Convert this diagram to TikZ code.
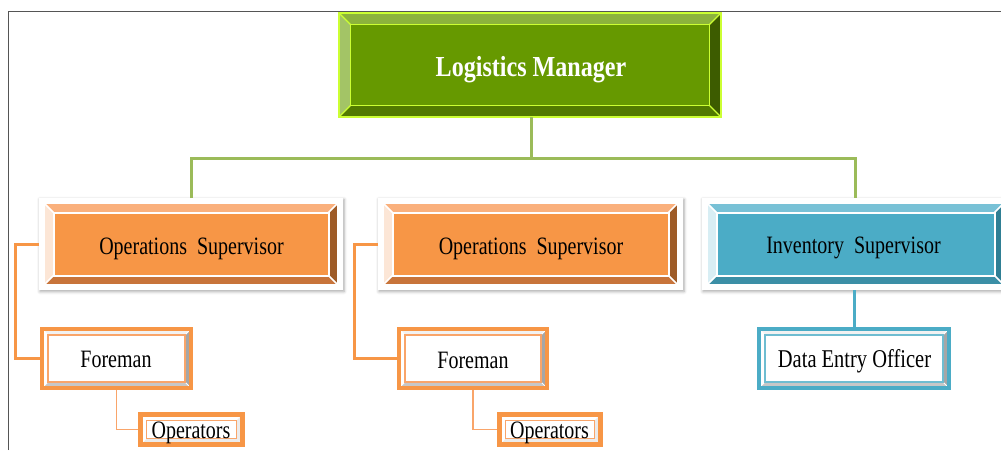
\documentclass[tikz,border=0pt]{standalone}
\usepackage{fontspec}
\setmainfont{Liberation Serif}
\newfontfamily\labelfont[FakeStretch=0.8]{Liberation Serif}
\newfontfamily\titlefont[FakeStretch=0.83]{Liberation Serif}
\usetikzlibrary{calc,shadows.blur,backgrounds}

% palette
\definecolor{lmfill}{HTML}{669900}
\definecolor{lmtop}{HTML}{8CB33D}
\definecolor{lmleft}{HTML}{A3C466}
\definecolor{lmright}{HTML}{3D5C00}
\definecolor{lmbottom}{HTML}{527A00}
\definecolor{lmedge}{HTML}{CCFF33}
\definecolor{conngreen}{HTML}{9BBB59}
\definecolor{orfill}{HTML}{F79646}
\definecolor{ortop}{HTML}{FAB07C}
\definecolor{orleft}{HTML}{FCE6D6}
\definecolor{orright}{HTML}{9E5B27}
\definecolor{orbottom}{HTML}{C8743A}
\definecolor{orthin}{HTML}{F9A56A}
\definecolor{blfill}{HTML}{4BACC6}
\definecolor{bltop}{HTML}{78C1D6}
\definecolor{blleft}{HTML}{D8EEF4}
\definecolor{blright}{HTML}{2F7F94}
\definecolor{blbottom}{HTML}{3B8FA6}
\definecolor{frameline}{HTML}{555555}

% bevelled frame drawn behind a node: #1 node, #2 inset, #3 bevel depth, #4 style prefix
\newcommand\bevelbox[4]{%
  \begin{pgfonlayer}{background}
    \path[#4 plate] (#1.north west) rectangle (#1.south east);
    \coordinate (bo1) at ($(#1.north west)+(#2,#2)$);
    \coordinate (bo2) at ($(#1.north east)+(-#2,#2)$);
    \coordinate (bo3) at ($(#1.south east)+(-#2,-#2)$);
    \coordinate (bo4) at ($(#1.south west)+(#2,-#2)$);
    \coordinate (bi1) at ($(bo1)+(#3,#3)$);
    \coordinate (bi2) at ($(bo2)+(-#3,#3)$);
    \coordinate (bi3) at ($(bo3)+(-#3,-#3)$);
    \coordinate (bi4) at ($(bo4)+(#3,-#3)$);
    \fill[#4 top] (bo1) -- (bo2) -- (bi2) -- (bi1) -- cycle;
    \fill[#4 right] (bo2) -- (bo3) -- (bi3) -- (bi2) -- cycle;
    \fill[#4 bottom] (bo3) -- (bo4) -- (bi4) -- (bi3) -- cycle;
    \fill[#4 left] (bo4) -- (bo1) -- (bi1) -- (bi4) -- cycle;
    \fill[#4 fill] (bi1) rectangle (bi3);
    \draw[#4 diag] (bo1) -- (bi1) (bo2) -- (bi2) (bo3) -- (bi3) (bo4) -- (bi4);
    \draw[#4 inner] (bi1) rectangle (bi3);
    \draw[#4 outer] (bo1) rectangle (bo3);
  \end{pgfonlayer}%
}

\tikzset{
  boxnode/.style={rectangle, inner sep=0pt, outer sep=0pt},
  lbl/.style={font=\labelfont\fontsize{25}{30}\selectfont, text=black, anchor=base, inner sep=0pt},
  title/.style={font=\titlefont\bfseries\fontsize{29}{34}\selectfont, text=white, anchor=base, inner sep=0pt},
  % top level
  lm plate/.style={},
  lm top/.style={fill=lmtop}, lm left/.style={fill=lmleft},
  lm right/.style={fill=lmright}, lm bottom/.style={fill=lmbottom},
  lm fill/.style={fill=lmfill},
  lm outer/.style={draw=lmedge, line width=1.5pt, line join=miter},
  lm inner/.style={draw=lmedge, line width=1.5pt},
  lm diag/.style={draw=lmedge, line width=1.2pt},
  % second level plates
  plate shadow/.style={fill=white, blur shadow={shadow xshift=1pt, shadow yshift=-1.5pt, shadow blur radius=3pt, shadow opacity=35}},
  os plate/.style={plate shadow},
  os top/.style={fill=ortop}, os left/.style={fill=orleft},
  os right/.style={fill=orright}, os bottom/.style={fill=orbottom},
  os fill/.style={fill=orfill},
  os outer/.style={draw=white, line width=1.5pt},
  os inner/.style={draw=white, line width=2pt},
  os diag/.style={draw=white, line width=1.5pt},
  is plate/.style={plate shadow},
  is top/.style={fill=bltop}, is left/.style={fill=blleft},
  is right/.style={fill=blright}, is bottom/.style={fill=blbottom},
  is fill/.style={fill=blfill},
  is outer/.style={draw=white, line width=1.5pt},
  is inner/.style={draw=white, line width=2pt},
  is diag/.style={draw=white, line width=1.5pt},
  % third level
  fm plate/.style={},
  fm top/.style={fill=black!5}, fm left/.style={fill=white},
  fm right/.style={fill=black!35}, fm bottom/.style={fill=black!22},
  fm fill/.style={fill=white},
  fm outer/.style={draw=orfill, line width=4.5pt},
  fm inner/.style={draw=orthin, line width=1.5pt},
  fm diag/.style={draw=white, line width=0.8pt},
  de plate/.style={},
  de top/.style={fill=black!5}, de left/.style={fill=white},
  de right/.style={fill=black!35}, de bottom/.style={fill=black!22},
  de fill/.style={fill=white},
  de outer/.style={draw=blfill, line width=4.5pt},
  de inner/.style={draw=blfill!80, line width=1.5pt},
  de diag/.style={draw=white, line width=0.8pt},
  % fourth level
  op plate/.style={},
  op top/.style={fill=white}, op left/.style={fill=white},
  op right/.style={fill=black!8}, op bottom/.style={fill=black!8},
  op fill/.style={fill=white},
  op outer/.style={draw=orfill, line width=5pt},
  op inner/.style={draw=orthin, line width=1.3pt},
  op diag/.style={draw=none},
  % connectors
  gline/.style={draw=conngreen, line width=3pt},
  oline/.style={draw=orfill, line width=3pt},
  othin/.style={draw=orthin, line width=1.5pt},
  bline/.style={draw=blfill, line width=3pt},
  frame/.style={draw=frameline, line width=1.5pt},
}

\begin{document}
\begin{tikzpicture}[x=1pt, y=-1pt]
  \useasboundingbox (0,0) rectangle (1001,450);

  % page frame
  \draw[frame] (8.5,450) -- (8.5,11.5) -- (1001,11.5);

  % box bodies
  \node[boxnode, minimum width=382pt, minimum height=104pt] (lm) at (530,65) {};
  \bevelbox{lm}{0}{11.5}{lm}
  \node[boxnode, minimum width=304pt, minimum height=92pt] (os1) at (191,244) {};
  \bevelbox{os1}{5}{9.5}{os}
  \node[boxnode, minimum width=305pt, minimum height=92pt] (os2) at (530.5,244) {};
  \bevelbox{os2}{5}{9.5}{os}
  \node[boxnode, minimum width=307pt, minimum height=92pt] (inv) at (855.5,244) {};
  \bevelbox{inv}{5}{9.5}{is}
  \node[boxnode, minimum width=153pt, minimum height=63pt] (fm1) at (116.5,358.5) {};
  \bevelbox{fm1}{2}{6}{fm}
  \node[boxnode, minimum width=152pt, minimum height=63pt] (fm2) at (473,358.5) {};
  \bevelbox{fm2}{2}{6}{fm}
  \node[boxnode, minimum width=194pt, minimum height=63pt] (deo) at (854,358.5) {};
  \bevelbox{deo}{2}{6}{de}
  \node[boxnode, minimum width=107pt, minimum height=35pt] (op1) at (191.5,429.5) {};
  \bevelbox{op1}{2.5}{6}{op}
  \node[boxnode, minimum width=106pt, minimum height=35pt] (op2) at (550,429.5) {};
  \bevelbox{op2}{2.5}{6}{op}

  % labels, placed on their baselines
  \node[title] (lmtext) at (531,76) {Logistics Manager};
  \node[lbl] (os1text) at (191.5,254) {Operations\ \ Supervisor};
  \node[lbl] (os2text) at (531,254) {Operations\ \ Supervisor};
  \node[lbl] (invtext) at (853.5,253) {Inventory\ \ Supervisor};
  \node[lbl] (fm1text) at (116,367) {Foreman};
  \node[lbl] (fm2text) at (473,368) {Foreman};
  \node[lbl, font=\labelfont\fontsize{25.6}{30}\selectfont] (deotext) at (854.5,367) {Data Entry Officer};
  \node[lbl] (op1text) at (191,438) {Operators};
  \node[lbl] (op2text) at (549.5,438) {Operators};

  % connectors
  \coordinate (bar) at (531,158);
  \draw[gline] (lm.south -| bar) -- (bar);
  \draw[gline] (os1.north) |- (bar) -| (inv.north);
  \draw[oline] (os1.west) -- ++(-24,0) |- (fm1.west);
  \draw[oline] (os2.west) -- ++(-24,0) |- (fm2.west);
  \draw[othin] (fm1.south) |- (op1.west);
  \draw[othin] (fm2.south) |- (op2.west);
  \draw[bline] (inv.south -| deo.north) -- (deo.north);
\end{tikzpicture}
\end{document}
